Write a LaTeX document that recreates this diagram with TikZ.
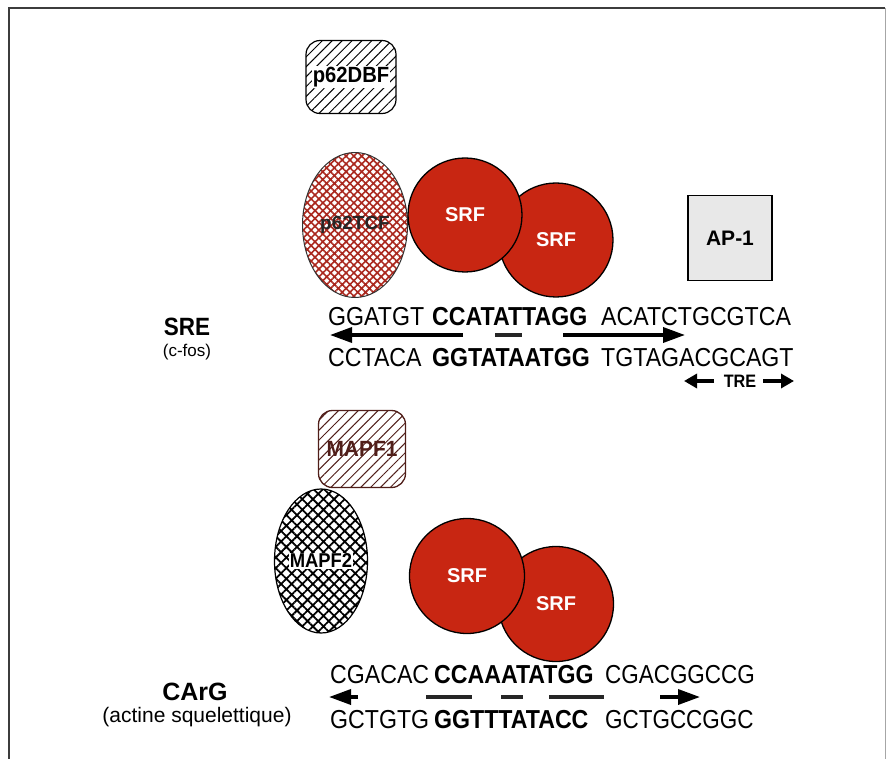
\documentclass[tikz,border=0pt]{standalone}
\usepackage{fontspec}
\setmainfont{Liberation Sans}
\usetikzlibrary{patterns.meta,arrows.meta,shapes.geometric}
\definecolor{srfred}{RGB}{200,38,18}
\definecolor{tcfred}{RGB}{170,40,30}
\definecolor{mapbrown}{RGB}{80,30,25}
\definecolor{framegray}{RGB}{60,60,60}
\definecolor{apgray}{RGB}{232,232,232}
\tikzset{
  srf/.style={circle,draw=black,line width=1.3pt,fill=srfred,minimum size=#1,inner sep=0pt,
    text=white,font=\fontsize{20}{20}\selectfont\bfseries},
  seq/.style={anchor=base west,inner sep=0pt,xscale=0.89,font=\fontsize{26}{26}\selectfont},
  seqb/.style={seq,font=\fontsize{26}{26}\selectfont\bfseries},
  biglab/.style={font=\fontsize{25}{25}\selectfont\bfseries,inner sep=0pt},
  smalllab/.style={font=\fontsize{17}{17}\selectfont,inner sep=0pt},
  protlab/.style={font=\fontsize{20}{20}\selectfont\bfseries,inner sep=0.6pt},
  arr/.style={line width=3.5pt,-{Triangle[length=22pt,width=15pt]}},
  tarr/.style={line width=3.5pt,-{Triangle[length=13pt,width=14pt]}},
  bar/.style={line width=3.5pt,draw=black!85},
}
\begin{document}
\begin{tikzpicture}[x=1pt,y=-1pt]
\useasboundingbox (0,0) rectangle (886,759);
% frame
\draw[framegray,line width=2pt] (9,759) coordinate (fbl) -- (9,8) coordinate (ftl) -- (885,8) coordinate (ftr);
\draw[black!35,line width=1pt] (ftr) -- (885,759) coordinate (fbr);

% ---------- SRE ----------
\node[rectangle,rounded corners=14pt,draw=black,line width=1.2pt,minimum width=90pt,minimum height=73pt,
  pattern={Lines[angle=45,distance=7pt,line width=1pt]},pattern color=black] (dbf) at (351,77) {};
\node[protlab,fill=white,font=\fontsize{22}{22}\selectfont\bfseries,xscale=0.92] (dbft) at (dbf.center) {p62DBF};

\node[ellipse,draw=black!80,line width=1pt,minimum width=105pt,minimum height=145pt,inner sep=0pt,
  pattern={Hatch[angle=45,distance=5.5pt,line width=1.6pt]},pattern color=tcfred] (tcf) at (355,225) {};
\node[protlab,text=black!85,font=\fontsize{19}{19}\selectfont\bfseries] (tcft) at (tcf.center) {p62TCF};

\node[srf=114pt] (srf2) at (556,240) {SRF};
\node[srf=114pt] (srf1) at (465,215) {SRF};

\node[rectangle,draw=black,line width=1.5pt,fill=apgray,minimum width=84pt,minimum height=85pt,
  font=\fontsize{21}{21}\selectfont\bfseries] (ap1) at (730,238) {AP-1};

\node[biglab,xscale=0.9] (sre) at (187,327) {SRE};
\node[smalllab] (crfos) at (187,352) {(c-fos)};

\node[seq] (s1a) at (328,325) {GGATGT};
\node[seqb] (s1b) at (432,325) {CCATATTAGG};
\node[seq] (s1c) at (601,325) {ACATCTGCGTCA};
\node[seq] (s2a) at (328,366) {CCTACA};
\node[seqb] (s2b) at (432,366) {GGTATAATGG};
\node[seq] (s2c) at (601,366) {TGTAGACGCAGT};

\coordinate (a1s) at (463,335); \coordinate (a1e) at (330,335);
\coordinate (d1s) at (495,335); \coordinate (d1e) at (522,335);
\coordinate (a2s) at (563,335); \coordinate (a2e) at (685,335);
\draw[arr] (a1s) -- (a1e);
\draw[bar] (d1s) -- (d1e);
\draw[arr] (a2s) -- (a2e);

\node[inner sep=0pt,xscale=0.9,font=\fontsize{18}{18}\selectfont\bfseries] (tre) at (740,381) {TRE};
\coordinate (t1s) at (714,381); \coordinate (t1e) at (684,381);
\coordinate (t2s) at (763,381); \coordinate (t2e) at (794,381);
\draw[tarr] (t1s) -- (t1e);
\draw[tarr] (t2s) -- (t2e);

% ---------- CArG ----------
\node[rectangle,rounded corners=14pt,draw=mapbrown,line width=1.3pt,minimum width=87pt,minimum height=77pt,
  pattern={Lines[angle=45,distance=7pt,line width=1pt]},pattern color=mapbrown] (mapf1) at (362,449) {};
\node[protlab,text=mapbrown,font=\fontsize{22}{22}\selectfont\bfseries,xscale=0.95] (mapf1t) at (mapf1.center) {MAPF1};

\node[ellipse,draw=black,line width=1.2pt,minimum width=93pt,minimum height=144pt,inner sep=0pt,
  pattern={Hatch[angle=45,distance=7.5pt,line width=1.8pt]},pattern color=black] (mapf2) at (321,561) {};
\node[protlab,fill=white,xscale=0.92] (mapf2t) at (mapf2.center) {MAPF2};

\node[srf=115pt] (srf4) at (556,604) {SRF};
\node[srf=115pt] (srf3) at (467,576) {SRF};

\node[biglab] (carg) at (195,692) {CArG};
\node[smalllab,font=\fontsize{21}{21}\selectfont] (actine) at (197,717) {(actine squelettique)};

\node[seq] (c1a) at (330,683) {CGACAC};
\node[seqb] (c1b) at (434,683) {CCAAATATGG};
\node[seq,xscale=0.97] (c1c) at (605,683) {CGACGGCCG};
\node[seq] (c2a) at (330,728) {GCTGTG};
\node[seqb] (c2b) at (434,728) {GGTTTATACC};
\node[seq,xscale=0.97] (c2c) at (605,728) {GCTGCCGGC};

\coordinate (b1s) at (358,697); \coordinate (b1e) at (329,697);
\coordinate (e1s) at (426,697); \coordinate (e1e) at (472,697);
\coordinate (e2s) at (501,697); \coordinate (e2e) at (523,697);
\coordinate (e3s) at (549,697); \coordinate (e3e) at (604,697);
\coordinate (b2s) at (660,697); \coordinate (b2e) at (700,697);
\draw[arr] (b1s) -- (b1e);
\draw[bar] (e1s) -- (e1e);
\draw[bar] (e2s) -- (e2e);
\draw[bar] (e3s) -- (e3e);
\draw[arr] (b2s) -- (b2e);
\end{tikzpicture}
\end{document}
